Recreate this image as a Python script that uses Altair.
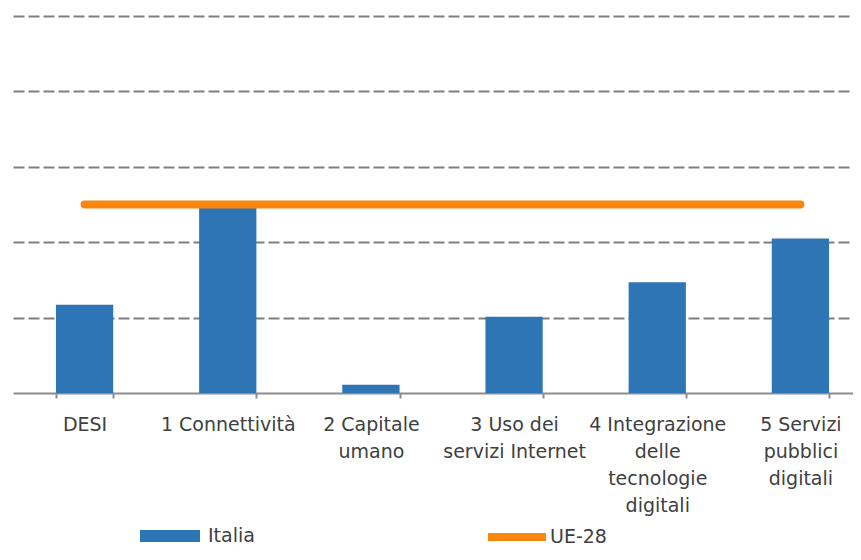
import altair as alt
import pandas as pd

categories = [
    "DESI",
    "1 Connettività",
    "2 Capitale|umano",
    "3 Uso dei|servizi Internet",
    "4 Integrazione|delle|tecnologie|digitali",
    "5 Servizi|pubblici|digitali",
]
italia = [1.17, 2.46, 0.11, 1.01, 1.47, 2.05]
ue28 = [2.5, 2.5, 2.5, 2.5, 2.5, 2.5]

bars = pd.DataFrame({"cat": categories, "value": italia, "series": ["Italia"] * 6})
line = pd.DataFrame({"cat": categories, "value": ue28, "series": ["UE-28"] * 6})

FONT = "DejaVu Sans"
TXT = "#404040"
BLUE = "#2E75B6"
ORANGE = "#F9860F"

x = alt.X(
    "cat:N",
    sort=categories,
    title=None,
    scale=alt.Scale(paddingInner=0.6, paddingOuter=0.3, range=[0, 859]),
    axis=alt.Axis(
        labelAngle=0,
        labelExpr="split(datum.label, '|')",
        labelFont=FONT,
        labelFontSize=19,
        labelColor=TXT,
        labelLineHeight=27,
        labelPadding=17,
        labelBaseline="top",
        tickBand="extent",
        tickSize=5,
        tickColor="#8c8c8c",
        tickWidth=2,
        domainColor="#8c8c8c",
        domainWidth=2,
        grid=False,
    ),
)
y = alt.Y(
    "value:Q",
    title=None,
    scale=alt.Scale(domain=[0, 5], nice=False),
    axis=alt.Axis(
        values=[1, 2, 3, 4, 5],
        labels=False,
        ticks=False,
        domain=False,
        grid=True,
        gridDash=[11, 4],
        gridColor="#7f7f7f",
        gridWidth=2,
    ),
)

bar_layer = alt.Chart(bars).mark_bar().encode(
    x=x,
    y=y,
    fill=alt.Fill(
        "series:N",
        scale=alt.Scale(range=[BLUE]),
        legend=alt.Legend(
            title=None,
            orient="none",
            legendX=127,
            legendY=490,
            symbolType="M-1,-0.2H1V0.2H-1Z",
            symbolSize=3600,
            symbolStrokeWidth=0,
            symbolOpacity=1,
            labelFont=FONT,
            labelFontSize=19,
            labelColor=TXT,
            labelOffset=8,
            padding=0,
        ),
    ),
)

line_layer = alt.Chart(line).mark_line(strokeWidth=8, strokeCap="round").encode(
    x=x,
    y=y,
    stroke=alt.Stroke(
        "series:N",
        scale=alt.Scale(range=[ORANGE]),
        legend=alt.Legend(
            title=None,
            orient="none",
            legendX=471,
            legendY=488,
            symbolType="stroke",
            symbolSize=3364,
            symbolStrokeWidth=8,
            labelFont=FONT,
            labelFontSize=19,
            labelColor=TXT,
            labelOffset=0,
            padding=0,
        ),
    ),
)

chart = (
    alt.layer(bar_layer, line_layer)
    .resolve_scale(fill="independent", stroke="independent")
    .properties(
        width=840,
        height=377,
        padding={"left": 5, "top": 8, "right": 0, "bottom": 155},
        autosize=alt.AutoSizeParams(type="none"),
        background="white",
    )
    .configure_view(strokeWidth=0, stroke=None)
)

chart.save("out.html", embed_options={"renderer": "svg", "actions": False})
